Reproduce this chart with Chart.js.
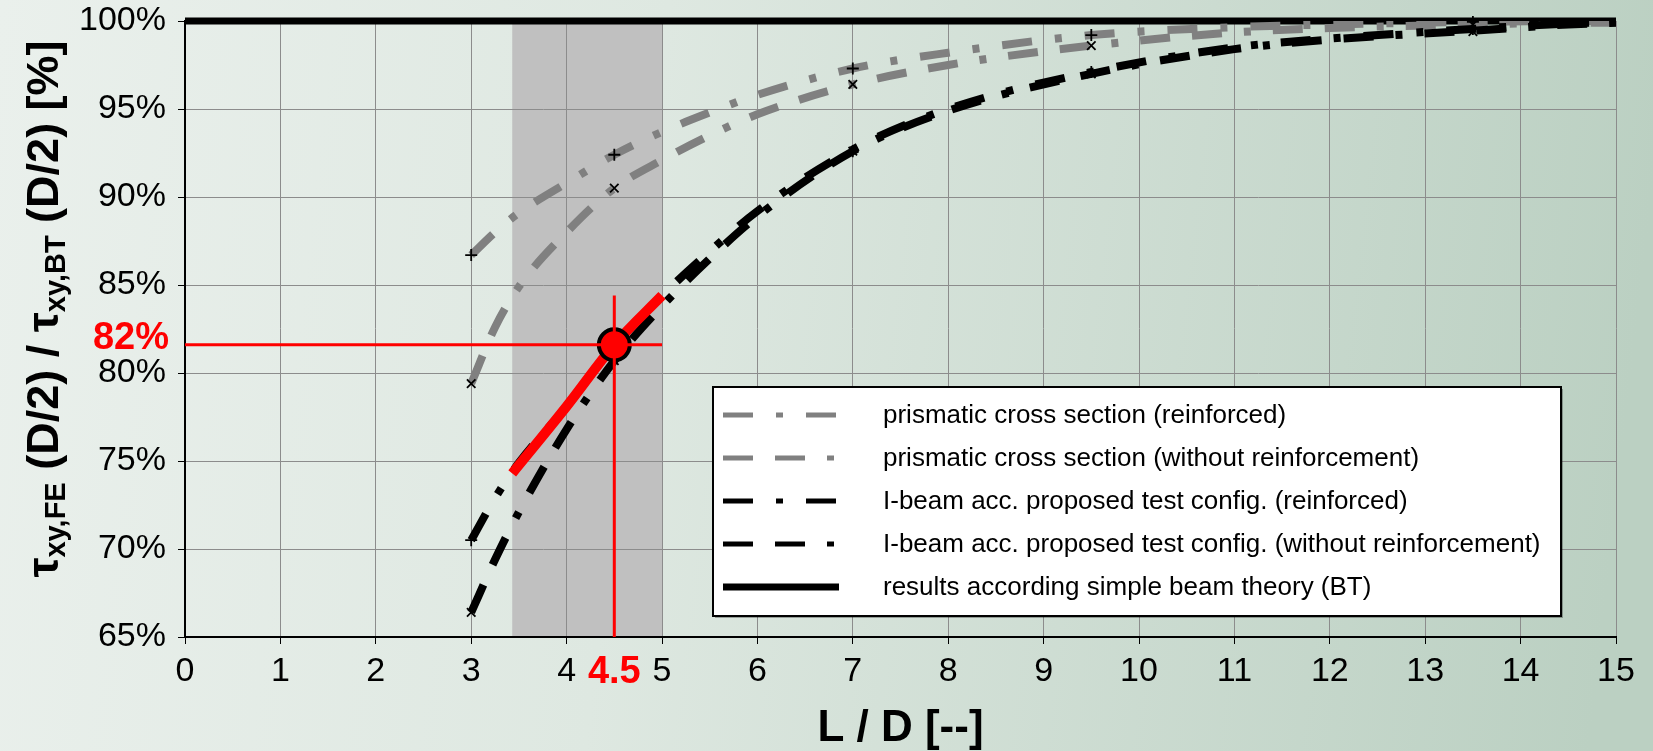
<!DOCTYPE html>
<html><head><meta charset="utf-8">
<script src="https://cdn.jsdelivr.net/npm/chart.js@4.4.1/dist/chart.umd.min.js"></script>
<style>
html,body{margin:0;padding:0;background:#e4ece6;overflow:hidden;}
#wrap{width:1653px;height:751px;position:relative;}
</style>
</head><body>
<div id="wrap"><canvas id="c"></canvas></div>
<script>
// ---------- data ----------
const seriesLabels = [
  'prismatic cross section (reinforced)',
  'prismatic cross section (without reinforcement)',
  'I-beam acc. proposed test config. (reinforced)',
  'I-beam acc. proposed test config. (without reinforcement)',
  'results according simple beam theory (BT)'
];
// L/D positions of the fitted curves
const curveX        = [3, 3.25, 3.5, 4, 4.5, 5, 5.5, 6, 7, 8, 9.5, 11, 12, 13.5, 14.5, 15];
const prismReinf    = [86.7, 88.0, 89.1, 90.8, 92.4, 93.7, 94.8, 95.8, 97.3, 98.2, 99.2, 99.65, 99.8, 99.95, 100, 100];
const prismPlain    = [79.4, 82.6, 84.9, 88.0, 90.5, 92.1, 93.5, 94.7, 96.4, 97.5, 98.6, 99.35, 99.6, 99.8, 99.9, 99.9];
const ibeamReinf    = [70.5, 72.9, 74.9, 78.1, 81.6, 84.4, 86.9, 89.2, 92.7, 95.0, 97.1, 98.5, 99.0, 99.55, 99.85, 99.95];
const ibeamPlain    = [66.4, 69.4, 72.1, 76.8, 80.7, 83.8, 86.5, 88.9, 92.6, 94.9, 97.0, 98.4, 98.95, 99.45, 99.8, 99.9];
// FE results (markers)
const feX           = [3, 4.5, 7, 9.5, 13.5];
const fePrismReinf  = [86.7, 92.4, 97.3, 99.2, 99.95];
const fePrismPlain  = [79.4, 90.5, 96.4, 98.6, 99.8];
const feIbeamReinf  = [70.5, 81.6, 92.6, 97.1, 99.55];
const feIbeamPlain  = [66.4, 80.7, 92.6, 97.0, 99.4];
// simple beam theory
const btX = [0, 15];
const btY = [100, 100];
// highlighted range and design point
const bandRange  = [3.43, 5];
const redX       = [3.43, 4, 4.5, 5];
const redY       = [74.3, 78.1, 81.6, 84.4];
const pointX     = 4.5;
const pointY     = 81.6;
const hLineX     = [0, 5];
const vLineY     = [65, 84.4];
const pointLabelX = '4.5';
const pointLabelY = '82%';
const pointLabelYValue = 82;
const yTicks = [65, 70, 75, 80, 85, 90, 95, 100];

// ---------- helpers ----------
const zip = (xs, ys) => xs.map((x, i) => ({x, y: ys[i]}));
const FONT = '"Liberation Sans", Arial, Helvetica, sans-serif';
const GRAY = '#808080';
const DASHDOT = [30, 23, 7, 23];
const DASHED  = [30, 22, 30, 22, 7, 22];

const curve = (label, xs, ys, color, dash, order) => ({
  label, data: zip(xs, ys), borderColor: color, backgroundColor: color,
  borderWidth: 8, borderDash: dash, borderCapStyle: 'butt',
  pointRadius: 0, cubicInterpolationMode: 'monotone', fill: false, order,
  inLegend: true, legendDash: dash, legendWidth: 5
});
const markers = (xs, ys, style) => ({
  label: '_fe', data: zip(xs, ys), showLine: false, pointStyle: style,
  pointRadius: 6, pointBorderColor: '#000', pointBackgroundColor: '#000',
  pointBorderWidth: 1.8, order: 5, clip: false
});

const datasets = [
  {label: seriesLabels[4], data: zip(btX, btY), borderColor: '#000', borderWidth: 7,
   pointRadius: 0, fill: false, order: 10, clip: false, inLegend: true, legendDash: [], legendWidth: 7, legendIndex: 4},
  Object.assign(curve(seriesLabels[0], curveX, prismReinf, GRAY, DASHDOT, 9), {legendIndex: 0}),
  Object.assign(curve(seriesLabels[1], curveX, prismPlain, GRAY, DASHED, 8), {legendIndex: 1}),
  Object.assign(curve(seriesLabels[2], curveX, ibeamReinf, '#000', DASHDOT, 7), {legendIndex: 2}),
  Object.assign(curve(seriesLabels[3], curveX, ibeamPlain, '#000', DASHED, 6), {legendIndex: 3}),
  markers(feX, fePrismReinf, 'cross'),
  markers(feX, fePrismPlain, 'crossRot'),
  markers(feX, feIbeamReinf, 'cross'),
  markers(feX, feIbeamPlain, 'crossRot'),
  {label: '_red', data: zip(redX, redY), borderColor: '#ff0000', borderWidth: 10, borderCapStyle: 'butt',
   pointRadius: 0, cubicInterpolationMode: 'monotone', order: 4},
  {label: '_pt', data: [{x: pointX, y: pointY}], showLine: false, pointRadius: 15.5,
   pointBackgroundColor: '#ff0000', pointBorderColor: '#000', pointBorderWidth: 4, order: 3},
  {label: '_h', data: zip(hLineX, hLineX.map(() => pointY)), borderColor: '#ff0000', borderWidth: 3,
   pointRadius: 0, order: 2},
  {label: '_v', data: zip(vLineY.map(() => pointX), vLineY), borderColor: '#ff0000', borderWidth: 3,
   pointRadius: 0, order: 2}
];

// ---------- plugins ----------
const bgPlugin = {
  id: 'bg',
  beforeDraw(chart) {
    const {ctx, width, height, chartArea: ca, scales: {x}} = chart;
    ctx.save();
    const g = ctx.createLinearGradient(0, 0, width, height * 0.25);
    g.addColorStop(0, '#eaf0ec');
    g.addColorStop(0.4, '#dee8e1');
    g.addColorStop(1, '#bbd0c2');
    ctx.fillStyle = g;
    ctx.fillRect(0, 0, width, height);
    const x0 = x.getPixelForValue(bandRange[0]);
    const x1 = x.getPixelForValue(bandRange[1]);
    ctx.fillStyle = '#c0c0c0';
    ctx.fillRect(x0, ca.top, x1 - x0, ca.bottom - ca.top);
    ctx.restore();
  }
};

const textPlugin = {
  id: 'texts',
  afterDraw(chart) {
    const {ctx, scales: {x, y}} = chart;
    ctx.save();
    // red labels
    ctx.fillStyle = '#ff0000';
    ctx.font = 'bold 38px ' + FONT;
    ctx.textAlign = 'right';
    ctx.textBaseline = 'middle';
    ctx.fillText(pointLabelY, y.right - 16, y.getPixelForValue(pointLabelYValue) + 1);
    ctx.textAlign = 'center';
    ctx.textBaseline = 'alphabetic';
    ctx.fillText(pointLabelX, x.getPixelForValue(pointX), x.top + 46);

    // y-axis title with subscripts
    const parts = [
      {t: 'τ'}, {t: 'xy,FE', sub: true}, {t: ' (D/2) / '},
      {t: 'τ'}, {t: 'xy,BT', sub: true}, {t: ' (D/2) [%]'}
    ];
    const big = 'bold 45px ' + FONT, small = 'bold 29px ' + FONT;
    let total = 0;
    parts.forEach(p => { ctx.font = p.sub ? small : big; p.w = ctx.measureText(p.t).width; total += p.w; });
    ctx.translate(42, 309);
    ctx.rotate(-Math.PI / 2);
    ctx.fillStyle = '#000';
    ctx.textAlign = 'left';
    ctx.textBaseline = 'alphabetic';
    let pos = -total / 2;
    parts.forEach(p => {
      ctx.font = p.sub ? small : big;
      ctx.fillText(p.t, pos, p.sub ? 23 : 16);
      pos += p.w;
    });
    ctx.restore();

    // legend
    const box = {x: 713, y: 387, w: 848, h: 229};
    ctx.save();
    ctx.fillStyle = 'rgba(0,0,0,0.3)';
    ctx.fillRect(box.x + 2, box.y + 2, box.w, box.h);
    ctx.fillStyle = '#fff';
    ctx.fillRect(box.x, box.y, box.w, box.h);
    ctx.lineWidth = 2;
    ctx.strokeStyle = '#000';
    ctx.strokeRect(box.x, box.y, box.w, box.h);
    ctx.font = '26px ' + FONT;
    ctx.textBaseline = 'middle';
    ctx.textAlign = 'left';
    const entries = chart.data.datasets.filter(d => d.inLegend)
      .sort((a, b) => a.legendIndex - b.legendIndex);
    entries.forEach((d, i) => {
      const yy = box.y + 28 + i * 43;
      ctx.beginPath();
      ctx.setLineDash(d.legendDash);
      ctx.lineWidth = d.legendWidth;
      ctx.lineCap = 'butt';
      ctx.strokeStyle = d.borderColor;
      ctx.moveTo(723, yy);
      ctx.lineTo(839, yy);
      ctx.stroke();
      ctx.setLineDash([]);
      ctx.fillStyle = '#000';
      ctx.fillText(d.label, 883, yy + 1);
    });
    ctx.restore();
  }
};

// ---------- chart ----------
new Chart(document.getElementById('c'), {
  type: 'line',
  data: {datasets},
  options: {
    responsive: true,
    maintainAspectRatio: false,
    animation: false,
    events: [],
    layout: {padding: {left: 0, top: 21, right: 37, bottom: 0}},
    plugins: {legend: {display: false}, tooltip: {enabled: false}},
    scales: {
      x: {
        type: 'linear', min: 0, max: 15,
        afterFit: s => { s.height = 114; s.paddingLeft = 0; s.paddingRight = 0; },
        ticks: {stepSize: 1, autoSkip: false, maxRotation: 0, padding: 7, color: '#000',
                font: {family: FONT, size: 34}},
        grid: {color: '#8c8c8c', lineWidth: 1, tickColor: '#000', tickLength: 7},
        border: {color: '#000', width: 2},
        title: {display: true, text: 'L / D [--]', color: '#000',
                font: {family: FONT, size: 44, weight: 'bold', lineHeight: 1}, padding: 0}
      },
      y: {
        type: 'linear', min: 65, max: 100,
        afterFit: s => { s.width = 185; s.paddingTop = 0; s.paddingBottom = 0; },
        afterBuildTicks: s => { s.ticks = yTicks.map(v => ({value: v})); },
        ticks: {padding: 12, color: '#000', font: {family: FONT, size: 34},
                callback: v => v + '%'},
        grid: {color: '#8c8c8c', lineWidth: 1, tickColor: '#000', tickLength: 7},
        border: {color: '#000', width: 2}
      }
    }
  },
  plugins: [bgPlugin, textPlugin]
});
</script>
</body></html>
